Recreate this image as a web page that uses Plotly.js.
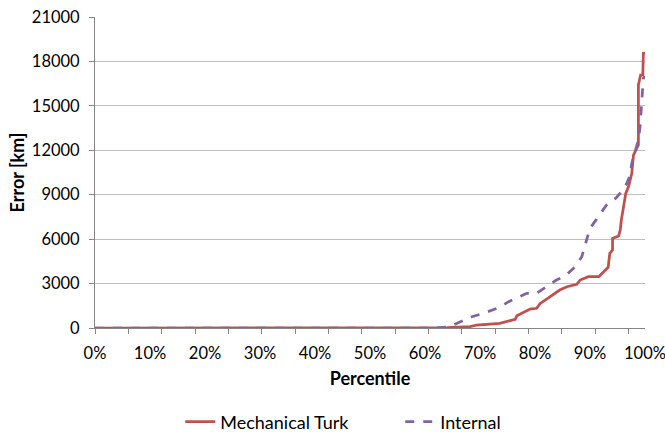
<!DOCTYPE html>
<html>
<head>
<meta charset="utf-8">
<script src="https://cdn.plot.ly/plotly-3.0.1.min.js"></script>
<style>html,body{margin:0;padding:0;background:#fff;}#chart{width:665px;height:432px;}</style>
</head>
<body>
<div id="chart"></div>
<script>
// Mechanical Turk series (percentile fraction, error km)
var turkPct = [0, 0.60, 0.64, 0.66, 0.682, 0.694, 0.73, 0.736, 0.755, 0.764, 0.767, 0.791, 0.803, 0.809, 0.845, 0.858, 0.876, 0.882, 0.897, 0.916, 0.933, 0.936, 0.941, 0.941, 0.952, 0.955, 0.957, 0.959, 0.961, 0.965, 0.970, 0.976, 0.979, 0.985, 0.988, 0.988, 0.992, 0.996, 0.997, 1.0];
var turkErr = [0, 0, 20, 60, 90, 200, 300, 315, 500, 585, 830, 1280, 1330, 1640, 2565, 2790, 2950, 3240, 3465, 3465, 4100, 5040, 5265, 6050, 6210, 6620, 7290, 7740, 8460, 9090, 9540, 10440, 11680, 12130, 12360, 16410, 17080, 17080, 18540, 18540];
// Internal series
var intPct = [0, 0.62, 0.645, 0.664, 0.685, 0.706, 0.72, 0.736, 0.752, 0.773, 0.785, 0.803, 0.825, 0.839, 0.855, 0.873, 0.885, 0.894, 0.900, 0.912, 0.930, 0.948, 0.961, 0.967, 0.973, 0.976, 0.982, 0.988, 0.991, 0.994, 0.997, 1.0];
var intErr = [0, 0, 90, 430, 760, 990, 1200, 1400, 1780, 2150, 2340, 2340, 2900, 3240, 3510, 4140, 4810, 5940, 6730, 7350, 8300, 8800, 9400, 9770, 10330, 11120, 11950, 12700, 13590, 15170, 16860, 17000];
// Axis labels
var xTickVals = [0, 0.1, 0.2, 0.3, 0.4, 0.5, 0.6, 0.7, 0.8, 0.9, 1.0];
var xTickText = ['0%', '10%', '20%', '30%', '40%', '50%', '60%', '70%', '80%', '90%', '100%'];
var yTickVals = [0, 3000, 6000, 9000, 12000, 15000, 18000, 21000];
var yTickText = ['0', '3000', '6000', '9000', '12000', '15000', '18000', '21000'];
var seriesNames = ['Mechanical Turk', 'Internal'];

// Excel-style category tick marks (every 1/16.5 of the axis)
var catTicks = [];
for (var k = 0; k <= 16; k++) catTicks.push(k / 16.5);

var font = 'Lato, "Open Sans", sans-serif';
var fs = 18, tfs = 16.5;
var traces = [
  {x: turkPct, y: turkErr, name: seriesNames[0], type: 'scatter', mode: 'lines',
   line: {color: '#C0504D', width: 2.75}},
  {x: intPct, y: intErr, name: seriesNames[1], type: 'scatter', mode: 'lines',
   line: {color: '#8064A2', width: 2.75, dash: 'dash'}},
  {x: [0], y: [0], xaxis: 'x2', type: 'scatter', mode: 'none', showlegend: false, hoverinfo: 'skip'}
];

var layout = {
  width: 665, height: 432,
  margin: {l: 95, r: 20, t: 17, b: 104, autoexpand: false},
  paper_bgcolor: '#fff', plot_bgcolor: '#fff',
  font: {family: font, size: fs, color: '#000'},
  showlegend: true,
  legend: {orientation: 'h', x: 0.155, xanchor: 'left', y: -0.302, yanchor: 'middle',
           itemwidth: 30, entrywidth: 175, font: {family: font, size: fs}, traceorder: 'normal'},
  xaxis: {range: [0, 1], tickvals: xTickVals, ticktext: xTickText, ticks: '', automargin: false,
          showgrid: false, zeroline: false, showline: true, linecolor: '#868686', linewidth: 1,
          tickfont: {family: font, size: tfs}, ticklabelstandoff: 10, ticklabeloverflow: 'allow',
          title: {text: '<b>Percentile</b>', font: {family: font, size: fs}, standoff: 10}},
  xaxis2: {overlaying: 'x', matches: 'x', range: [0, 1], tickvals: catTicks, ticks: 'outside',
           ticklen: 5, tickcolor: '#868686', showticklabels: false, showgrid: false,
           zeroline: false, showline: false, automargin: false},
  yaxis: {range: [0, 21000], tickvals: yTickVals, ticktext: yTickText, ticks: 'outside', ticklen: 5, tickcolor: '#868686',
          showgrid: true, gridcolor: '#BEBEBE', gridwidth: 1, zeroline: false, automargin: false,
          showline: true, linecolor: '#868686', linewidth: 1,
          tickfont: {family: font, size: tfs}, ticklabelstandoff: 6,
          title: {text: '<b>Error [km]</b>', font: {family: font, size: fs}, standoff: 2}}
};

Plotly.newPlot('chart', traces, layout, {displayModeBar: false, staticPlot: true});
</script>
</body>
</html>
